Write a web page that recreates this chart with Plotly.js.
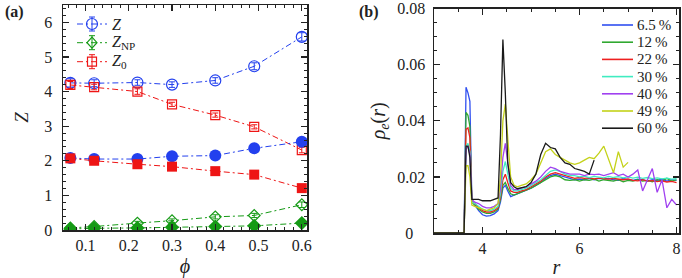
<!DOCTYPE html>
<html><head><meta charset="utf-8">
<script src="https://cdn.plot.ly/plotly-3.0.1.min.js"></script>
<style>html,body{margin:0;padding:0;background:#fff}#chart{width:682px;height:278px}</style>
</head><body><div id="chart"></div>
<script>
// ---------- panel (a) data ----------
const phi = [0.065, 0.12, 0.22, 0.30, 0.40, 0.49, 0.60];
const zOpen = [4.25, 4.24, 4.26, 4.20, 4.32, 4.73, 5.58];
const zOpenErr = [0.12, 0.10, 0.08, 0.08, 0.08, 0.10, 0.12];
const zNpOpen = [0.06, 0.10, 0.20, 0.27, 0.38, 0.42, 0.73];
const zNpOpenErr = [0.05, 0.05, 0.05, 0.05, 0.06, 0.06, 0.08];
const z0Open = [4.19, 4.13, 4.00, 3.63, 3.32, 2.98, 2.31];
const z0OpenErr = [0.10, 0.08, 0.08, 0.06, 0.06, 0.06, 0.08];
const zFilled = [2.08, 2.05, 2.05, 2.13, 2.15, 2.36, 2.55];
const zNpFilled = [0.03, 0.05, 0.06, 0.08, 0.10, 0.12, 0.20];
const z0Filled = [2.07, 2.00, 1.90, 1.83, 1.70, 1.60, 1.21];
const legendA = ['<i>Z</i>', '<i>Z</i><sub>NP</sub>', '<i>Z</i><sub>0</sub>'];

// ---------- panel (b) data ----------
const rGrid = [3.0, 3.62, 3.66, 3.7, 3.74, 3.78, 3.84, 3.92, 4.0, 4.08,
  4.16, 4.24, 4.32, 4.37, 4.42, 4.47, 4.52, 4.58, 4.65, 4.72,
  4.8, 4.9, 5.0, 5.1, 5.2, 5.3, 5.4, 5.5, 5.6, 5.7,
  5.8, 5.9, 6.0, 6.1, 6.2, 6.3, 6.4, 6.5, 6.6, 6.7,
  6.8, 6.9, 7.0, 7.1, 7.2, 7.3, 7.4, 7.5, 7.6, 7.7,
  7.8, 7.9, 8.0];
const rho65 = [0, 0, 0.052, 0.050, 0.047, 0.012, 0.010, 0.008, 0.0065, 0.006,
  0.0062, 0.0068, 0.008, 0.011, 0.016, 0.017, 0.015, 0.013, 0.0135, 0.014,
  0.0145, 0.015, 0.016, 0.017, 0.018, 0.0195, 0.0205, 0.021, 0.0205, 0.020,
  0.0195, 0.019, 0.0192, 0.019, 0.0195, 0.019, 0.0195, 0.0192, 0.0195, 0.019,
  0.0188, 0.0195, 0.019, 0.0188, 0.0192, 0.019, 0.0185, 0.019, 0.0188, 0.0192,
  0.0185, 0.019, 0.0188];
const rho12 = [0, 0, 0.043, 0.042, 0.038, 0.011, 0.010, 0.0085, 0.0075, 0.007,
  0.007, 0.0075, 0.0085, 0.012, 0.017, 0.018, 0.016, 0.014, 0.0135, 0.014,
  0.0145, 0.0155, 0.016, 0.017, 0.018, 0.019, 0.020, 0.0205, 0.020, 0.019,
  0.0188, 0.019, 0.0185, 0.019, 0.0188, 0.0192, 0.0185, 0.019, 0.0188, 0.0185,
  0.019, 0.0183, 0.0188, 0.0185, 0.019, 0.0185, 0.0188, 0.0183, 0.019, 0.0185,
  0.0195, 0.0185, 0.019];
const rho22 = [0, 0, 0.037, 0.0375, 0.034, 0.011, 0.0105, 0.009, 0.008, 0.0075,
  0.0075, 0.008, 0.009, 0.013, 0.019, 0.021, 0.018, 0.015, 0.0145, 0.0145,
  0.015, 0.0155, 0.0165, 0.0175, 0.0185, 0.020, 0.021, 0.0215, 0.021, 0.0205,
  0.020, 0.0195, 0.0198, 0.0195, 0.0197, 0.0193, 0.0196, 0.0194, 0.0192, 0.0195,
  0.0192, 0.019, 0.0193, 0.0188, 0.0186, 0.019, 0.0185, 0.0187, 0.0183, 0.0186,
  0.0182, 0.0184, 0.018];
const rho30 = [0, 0, 0.031, 0.032, 0.029, 0.011, 0.0105, 0.0095, 0.0085, 0.008,
  0.008, 0.0085, 0.0095, 0.014, 0.022, 0.0255, 0.021, 0.016, 0.015, 0.015,
  0.0155, 0.016, 0.017, 0.018, 0.019, 0.0205, 0.022, 0.0225, 0.022, 0.021,
  0.0205, 0.0205, 0.020, 0.0203, 0.0198, 0.0202, 0.020, 0.0197, 0.0202, 0.0198,
  0.0201, 0.0197, 0.020, 0.0196, 0.0199, 0.0195, 0.0198, 0.0194, 0.0197, 0.0193,
  0.0196, 0.0192, 0.0194];
const rho40 = [0, 0, 0.030, 0.031, 0.028, 0.012, 0.011, 0.0105, 0.0095, 0.009,
  0.009, 0.0095, 0.0105, 0.016, 0.027, 0.032, 0.025, 0.017, 0.0155, 0.0155,
  0.016, 0.0165, 0.0175, 0.0185, 0.020, 0.022, 0.0235, 0.023, 0.022, 0.0215,
  0.021, 0.021, 0.021, 0.0205, 0.021, 0.0208, 0.021, 0.0205, 0.021, 0.0215,
  0.0205, 0.021, 0.020, 0.021, 0.0225, 0.015, 0.019, 0.023, 0.0145, 0.019,
  0.009, 0.012, 0.010];
const rho49 = [0, 0, 0.024, 0.024, 0.020, 0.010, 0.0095, 0.009, 0.0085, 0.008,
  0.0085, 0.009, 0.0105, 0.020, 0.040, 0.046, 0.034, 0.020, 0.017, 0.0165,
  0.017, 0.0175, 0.019, 0.021, 0.025, 0.029, 0.030, 0.028, 0.027, 0.026,
  0.025, 0.0245, 0.025, 0.026, 0.027, 0.0265, 0.0285, 0.031, 0.026, 0.0215,
  0.029, 0.0235, 0.0252, null, null, null, null, null, null, null,
  null, null, null];
const rho60 = [0, 0, 0.031, 0.031, 0.027, 0.012, 0.012, 0.012, 0.0115, 0.0115,
  0.0115, 0.012, 0.0125, 0.035, 0.069, 0.050, 0.025, 0.018, 0.0165, 0.0158,
  0.016, 0.0165, 0.018, 0.021, 0.028, 0.032, 0.0305, 0.030, 0.027, 0.025,
  0.0245, 0.023, 0.0225, 0.022, 0.021, 0.026, null, null, null, null,
  null, null, null, null, null, null, null, null, null, null,
  null, null, null];
const legendB = ['6.5\u2009%', '12\u2009%', '22\u2009%', '30\u2009%', '40\u2009%', '49\u2009%', '60\u2009%'];
const colorsB = ['#2f4ff0', '#30a830', '#ee2020', '#40ecc0', '#a040f0', '#c4d21a', '#1a1a1a'];
const seriesB = [rho65, rho12, rho22, rho30, rho40, rho49, rho60];

const yTicksB = [0, 0.02, 0.04, 0.06, 0.08];
const yTickTextB = ['0\u2007\u2008', '0.02', '0.04', '0.06', '0.08'];

// ---------- build ----------
const FONT = 'Liberation Serif';
const BLUE = '#2340ee', GREEN = '#159a15', RED = '#ee1515';
const DASH = '6px,3px,2px,3px';
const ML = 63, MR = 2, MT = 5, MB = 45, W = 682, H = 278;
const PW = W - ML - MR, PH = H - MT - MB;
const px2x = p => (p - ML) / PW;
const py2y = p => (H - MB - p) / PH;

const traces = [];
function openTrace(y, err, color, symbol, size) {
  return {x: phi, y: y, type: 'scatter', mode: 'lines+markers', showlegend: false,
    xaxis: 'x', yaxis: 'y',
    line: {color: color, width: 1, dash: DASH},
    marker: {symbol: symbol, size: size, color: color, line: {color: color, width: 1.2}},
    error_y: {type: 'data', array: err, visible: true, color: color, thickness: 1, width: 3}};
}
function filledTrace(y, color, symbol, size) {
  return {x: phi, y: y, type: 'scatter', mode: 'lines+markers', showlegend: false,
    xaxis: 'x', yaxis: 'y',
    line: {color: color, width: 1, dash: DASH},
    marker: {symbol: symbol, size: size, color: color, line: {width: 0}}};
}
traces.push(openTrace(zOpen, zOpenErr, BLUE, 'circle-open', 11));
traces.push(openTrace(zNpOpen, zNpOpenErr, GREEN, 'diamond-open', 9));
traces.push(openTrace(z0Open, z0OpenErr, RED, 'square-open', 9));
traces.push(filledTrace(zFilled, BLUE, 'circle', 12));
traces.push(filledTrace(zNpFilled, GREEN, 'diamond', 11));
traces.push(filledTrace(z0Filled, RED, 'square', 10));

seriesB.forEach((s, i) => {
  traces.push({x: rGrid, y: s, type: 'scatter', mode: 'lines', name: legendB[i],
    xaxis: 'x2', yaxis: 'y2', showlegend: false,
    line: {color: colorsB[i], width: 1.3}, connectgaps: false});
});

const shapes = [], annotations = [];
function seg(x0, y0, x1, y1, color, width, dash) {
  shapes.push({type: 'line', xref: 'paper', yref: 'paper', x0: px2x(x0), x1: px2x(x1),
    y0: py2y(y0), y1: py2y(y1), line: {color: color, width: width, dash: dash || 'solid'}});
}
// key (a): dash-dot line, error bar and open marker
const keyColorsA = [BLUE, GREEN, RED];
const keyYA = [24, 42.7, 61.7];
const KX = 92;
keyYA.forEach((py, i) => {
  const c = keyColorsA[i];
  seg(77, py, 107, py, c, 1, DASH);
  seg(KX, py - 7, KX, py + 7, c, 1);
  seg(KX - 3, py - 7, KX + 3, py - 7, c, 1);
  seg(KX - 3, py + 7, KX + 3, py + 7, c, 1);
  if (i === 0) {
    shapes.push({type: 'circle', xref: 'paper', yref: 'paper', x0: px2x(KX - 5.5), x1: px2x(KX + 5.5),
      y0: py2y(py + 5.5), y1: py2y(py - 5.5), line: {color: c, width: 1.2}, fillcolor: 'rgba(0,0,0,0)'});
  } else if (i === 1) {
    const p = `M ${px2x(KX - 5)} ${py2y(py)} L ${px2x(KX)} ${py2y(py - 5.5)} L ${px2x(KX + 5)} ${py2y(py)} L ${px2x(KX)} ${py2y(py + 5.5)} Z`;
    shapes.push({type: 'path', xref: 'paper', yref: 'paper', path: p, line: {color: c, width: 1.2}, fillcolor: 'rgba(0,0,0,0)'});
  } else {
    shapes.push({type: 'rect', xref: 'paper', yref: 'paper', x0: px2x(KX - 4.5), x1: px2x(KX + 4.5),
      y0: py2y(py + 4.5), y1: py2y(py - 4.5), line: {color: c, width: 1.2}, fillcolor: 'rgba(0,0,0,0)'});
  }
  annotations.push({text: legendA[i], xref: 'paper', yref: 'paper', x: px2x(110), y: py2y(py),
    xanchor: 'left', yanchor: 'middle', showarrow: false,
    font: {family: FONT, size: 16, color: '#222'}});
});
// key (b)
legendB.forEach((lab, i) => {
  const py = 25 + 17.2 * i;
  seg(602, py, 633, py, colorsB[i], 1.6);
  annotations.push({text: lab, xref: 'paper', yref: 'paper', x: px2x(635), y: py2y(py),
    xanchor: 'left', yanchor: 'middle', showarrow: false,
    font: {family: FONT, size: 15, color: '#222'}});
});
annotations.push({text: '<b>(a)</b>', xref: 'paper', yref: 'paper', x: px2x(3), y: py2y(12),
  xanchor: 'left', yanchor: 'middle', showarrow: false, font: {family: FONT, size: 16, color: '#222'}});
annotations.push({text: '<b>(b)</b>', xref: 'paper', yref: 'paper', x: px2x(357), y: py2y(12),
  xanchor: 'left', yanchor: 'middle', showarrow: false, font: {family: FONT, size: 16, color: '#222'}});

const axisBase = {
  showline: true, linecolor: '#222', linewidth: 1.5, mirror: 'allticks',
  ticks: 'inside', ticklen: 6, tickwidth: 1.2, tickcolor: '#222',
  showgrid: false, zeroline: false, ticklabeloverflow: 'allow',
  tickfont: {family: FONT, size: 16, color: '#222'}
};
const minorBase = {ticks: 'inside', ticklen: 3, tickwidth: 1, tickcolor: '#222', showgrid: false};

const layout = {
  width: W, height: H,
  margin: {l: ML, r: MR, t: MT, b: MB},
  paper_bgcolor: '#fff', plot_bgcolor: '#fff',
  font: {family: FONT, color: '#222'},
  showlegend: false,
  xaxis: Object.assign({}, axisBase, {domain: [0, px2x(307)], range: [0.048, 0.612], anchor: 'y',
    tick0: 0, dtick: 0.1, minor: Object.assign({}, minorBase, {dtick: 0.02}),
    title: {text: '<i>ϕ</i>', font: {family: FONT, size: 20, color: '#222'}, standoff: 6}}),
  yaxis: Object.assign({}, axisBase, {domain: [py2y(230), 1], range: [0, 6.5], anchor: 'x',
    tick0: 0, dtick: 1, minor: Object.assign({}, minorBase, {dtick: 0.2}), ticklabelstandoff: 6,
    title: {text: '<i>Z</i>', font: {family: FONT, size: 19, color: '#222'}, standoff: 10}}),
  xaxis2: Object.assign({}, axisBase, {domain: [px2x(434), px2x(679)], range: [3, 8.05], anchor: 'y2',
    tick0: 0, dtick: 2, minor: Object.assign({}, minorBase, {dtick: 0.5}),
    title: {text: '<i>r</i>', font: {family: FONT, size: 20, color: '#222'}, standoff: 6}}),
  yaxis2: Object.assign({}, axisBase, {domain: [0, py2y(8.5)], range: [0, 0.0801], anchor: 'x2',
    tickmode: 'array', tickvals: yTicksB, ticktext: yTickTextB, ticklabelstandoff: 4,
    minor: Object.assign({}, minorBase, {tickmode: 'linear', tick0: 0, dtick: 0.005}),
    title: {text: '<i>ρ<sub>e</sub></i>(<i>r</i>)', font: {family: FONT, size: 20, color: '#222'}, standoff: 6}}),
  shapes: shapes,
  annotations: annotations
};
Plotly.newPlot('chart', traces, layout, {staticPlot: true, displayModeBar: false});
</script>
</body></html>
